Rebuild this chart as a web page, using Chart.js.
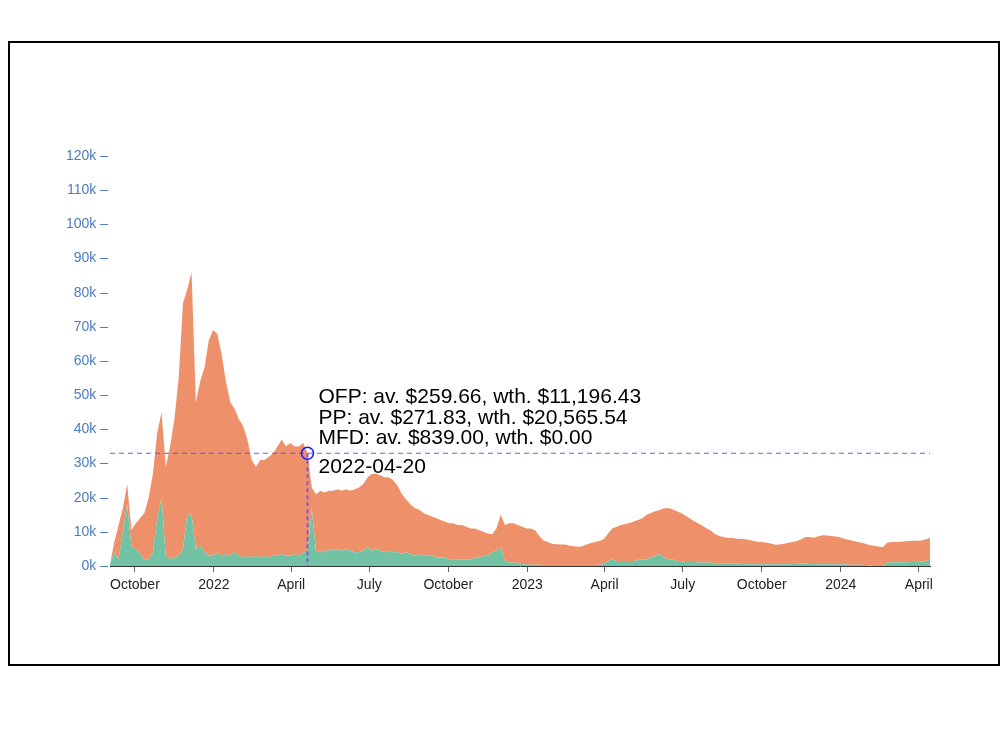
<!DOCTYPE html>
<html>
<head>
<meta charset="utf-8">
<script src="https://cdn.jsdelivr.net/npm/chart.js@4.4.1/dist/chart.umd.min.js"></script>
<style>
  body { margin: 0; background: #fff; }
  #marco { position: absolute; left: 8px; top: 41px; width: 988px; height: 621px; border: 2px solid #000; }
  #lienzo { position: absolute; left: 0; top: 0; width: 1000px; height: 750px; }
</style>
</head>
<body>
<div id="marco"></div>
<div id="lienzo"><canvas id="graficoRetiros" width="1000" height="750"></canvas></div>
<script>
// fechas: un punto cada 5 dias desde el 2 de septiembre de 2021
const fechaInicio = '2021-09-02';
const pasoDias = 5;

// valores en miles de dolares
const verde = [
  0.5,4,2,10,18,5.5,5,3.5,2,2,
  4,14,20,3,2,2.5,3,5,15,15,
  5,6,4,3,3,4,3,3.5,3,4,
  3,2.5,3,2.5,3,2.5,3,2.5,3,3,
  3.5,3,3,3.5,3,4,4,17,4,4.5,
  4,5,4.5,5,4.5,5,4.5,4,4,4.5,
  5.5,4.5,5,4.5,4,4.5,4,4,3.5,4,
  3.5,3,3.5,3,3,3,2.5,2.5,2.5,2,
  2,2,2,1.8,2,2.5,2.5,3,3,4,
  4.5,5.5,1.5,1,1,0.8,0.5,0.5,0.4,0.4,
  0.4,0.3,0.3,0.3,0.3,0.3,0.3,0.3,0.3,0.3,
  0.3,0.3,0.3,0.3,0.4,0.5,1.5,2,1.5,1.5,
  1.5,1.5,1.5,1.8,1.8,2,2.5,3,3.5,2.5,
  2,2,1.5,1.5,1.2,1.2,1.2,1,1,1,
  1,0.8,0.8,0.8,0.8,0.8,0.8,0.6,0.5,0.5,
  0.5,0.5,0.5,0.5,0.5,0.5,0.5,0.5,0.5,0.6,
  0.6,0.7,0.7,0.6,0.6,0.5,0.5,0.5,0.5,0.5,
  0.5,0.5,0.4,0.4,0.4,0.4,0.3,0.2,0,0,
  0,1,1.1,1.1,1.1,1.1,1.2,1.2,1.2,1.3,1.5,1.8
];

const naranja = [
  0,3,10,7,6,5,7.5,10.5,13.5,18,
  23,25,25,26,33,40.5,52,72,66,71,
  43,48,54,63,66,64,59,50.5,45,42,
  40,38.5,34,28.5,26,28.5,28,29.5,30,32,
  33.5,32,33,31.5,32,32,29,6,17,17.5,
  17.5,17,17.5,17.5,17.5,17.5,17.5,18.5,19,19.5,
  20.5,22.5,22,22,22,21.5,21,19.5,17.5,15.5,
  14.5,14,13,12.5,12,11.5,11.5,11,10.5,10.5,
  10.5,10,10,9.7,9,8.5,8,7,6.5,5.3,
  6.5,9.5,10.5,11.5,11.5,11.2,11,10.5,10.6,10.1,
  8.4,7.2,6.7,6.2,6.1,6,6,5.7,5.5,5.3,
  5.5,6,6.4,6.7,6.9,7.3,8,9,10,10.5,
  10.8,11.1,11.5,11.7,12.2,13,13,13,12.9,14.3,
  15,14.6,14.5,14,13.6,12.8,12,11.5,10.8,10,
  9.3,8.5,8,7.6,7.4,7.4,7.2,7.4,7.3,7.1,
  6.8,6.5,6.5,6.3,6.1,5.7,5.8,6,6.3,6.4,
  6.7,7.1,7.8,7.9,7.7,8.2,8.5,8.4,8.3,8.1,
  7.9,7.5,7.3,7,6.7,6.4,6.2,5.9,5.9,5.7,
  5.5,5.8,5.9,5.9,6,6.1,6.1,6.2,6.2,6.2,6.3,6.4
];

const fechasEje = ['2021-10-01','2022-01-01','2022-04-01','2022-07-01','2022-10-01','2023-01-01',
                   '2023-04-01','2023-07-01','2023-10-01','2024-01-01','2024-04-01'];
const etiquetasEje = ['October','2022','April','July','October','2023','April','July','October','2024','April'];

const fechaMarca = '2022-04-20';
const lineasMarca = [
  'OFP: av. $259.66, wth. $11,196.43',
  'PP: av. $271.83, wth. $20,565.54',
  'MFD: av. $839.00, wth. $0.00'
];

function diaDe(fecha) {
  return Math.round((Date.parse(fecha) - Date.parse(fechaInicio)) / 86400000);
}

const fuente = '"Liberation Sans", Arial, sans-serif';

const marcaPlugin = {
  id: 'marca',
  afterDatasetsDraw(chart) {
    const ctx = chart.ctx;
    const area = chart.chartArea;
    const dia = diaDe(fechaMarca);
    const idx = dia / pasoDias;
    const px = chart.scales.x.getPixelForValue(dia);
    const py = chart.scales.y.getPixelForValue(verde[idx] + naranja[idx]);
    ctx.save();
    ctx.lineWidth = 1;
    ctx.setLineDash([5, 4]);
    ctx.strokeStyle = 'rgba(70,70,240,0.85)';
    ctx.beginPath();
    ctx.moveTo(area.left, py);
    ctx.lineTo(area.right, py);
    ctx.stroke();
    ctx.lineWidth = 2;
    ctx.setLineDash([4, 3]);
    ctx.strokeStyle = '#8a55d6';
    ctx.beginPath();
    ctx.moveTo(px, py);
    ctx.lineTo(px, area.bottom);
    ctx.stroke();
    ctx.setLineDash([]);
    ctx.lineWidth = 1.5;
    ctx.strokeStyle = '#1a1aff';
    ctx.beginPath();
    ctx.arc(px, py, 6, 0, Math.PI * 2);
    ctx.stroke();
    ctx.fillStyle = '#000';
    ctx.font = '21px ' + fuente;
    ctx.textBaseline = 'middle';
    lineasMarca.forEach((t, k) => ctx.fillText(t, px + 11, py - 56 + k * 20.5));
    ctx.fillText(fechaMarca, px + 11, py + 14);
    ctx.restore();
  }
};

new Chart(document.getElementById('graficoRetiros'), {
  type: 'line',
  data: {
    datasets: [
      {
        label: 'verde',
        data: verde.map((v, i) => ({ x: i * pasoDias, y: v })),
        backgroundColor: '#72c3a6',
        borderWidth: 0,
        pointRadius: 0,
        fill: 'origin'
      },
      {
        label: 'naranja',
        data: naranja.map((v, i) => ({ x: i * pasoDias, y: v })),
        backgroundColor: '#ee916b',
        borderWidth: 0,
        pointRadius: 0,
        fill: '-1'
      }
    ]
  },
  options: {
    responsive: false,
    animation: false,
    layout: { padding: { top: 156, right: 70, bottom: 144, left: 10 } },
    plugins: { legend: { display: false }, tooltip: { enabled: false } },
    scales: {
      x: {
        type: 'linear',
        min: 0,
        max: (verde.length - 1) * pasoDias,
        afterBuildTicks: axis => { axis.ticks = fechasEje.map(f => ({ value: diaDe(f) })); },
        afterFit: axis => { axis.height = 40; },
        ticks: {
          autoSkip: false, maxRotation: 0, padding: 5, color: '#222',
          font: { family: fuente, size: 14 },
          callback: (v, i) => etiquetasEje[i]
        },
        grid: { display: true, drawOnChartArea: false, drawTicks: true, tickLength: 6, color: '#666' },
        border: { display: true, color: '#333', width: 1 }
      },
      y: {
        stacked: true,
        min: 0,
        max: 120,
        afterFit: axis => { axis.width = 100; },
        ticks: {
          stepSize: 10, padding: 2, color: '#4a7cc0',
          font: { family: fuente, size: 14 },
          callback: v => v + 'k \u2013'
        },
        grid: { display: false, drawTicks: false, tickLength: 0 },
        border: { display: false }
      }
    }
  },
  plugins: [marcaPlugin]
});
</script>
</body>
</html>
